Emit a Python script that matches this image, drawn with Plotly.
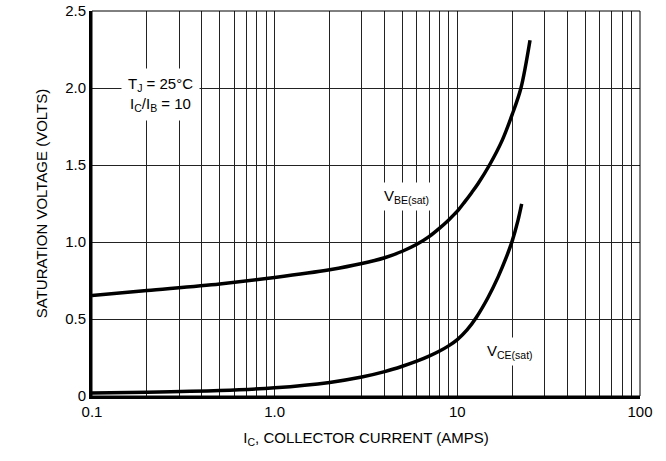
import plotly.graph_objects as go

# Data
ic_vbe = [0.1, 0.2, 0.5, 1.0, 2.0, 3.0, 4.0, 5.0, 6.0, 7.0, 8.0, 9.0, 10.0, 11.0, 12.0, 13.0,
          15.0, 17.6, 20.0, 22.3, 25.0]
vbe = [0.652, 0.685, 0.728, 0.77, 0.82, 0.86, 0.898, 0.94, 0.985, 1.035, 1.09, 1.145, 1.20,
       1.262, 1.322, 1.38, 1.50, 1.66, 1.83, 2.0, 2.31]

ic_vce = [0.1, 0.2, 0.5, 1.0, 2.0, 3.0, 4.0, 5.0, 6.0, 7.0, 8.0, 9.0, 10.0, 11.3, 12.7,
          14.7, 16.7, 18.5, 20.0, 21.5, 22.5]
vce = [0.02, 0.024, 0.035, 0.053, 0.088, 0.123, 0.158, 0.193, 0.226, 0.259, 0.292, 0.327, 0.366,
       0.429, 0.51, 0.638, 0.772, 0.898, 1.009, 1.142, 1.247]

x_major = [0.1, 1.0, 10, 100]
x_major_text = ["0.1", "1.0", "10", "100"]
y_ticks = [0, 0.5, 1.0, 1.5, 2.0, 2.5]
y_tick_text = ["0", "0.5", "1.0", "1.5", "2.0", "2.5"]

x_grid = []
for dec in [0.1, 1.0, 10.0]:
    for m in range(1, 10):
        x_grid.append(round(dec * m, 6))
x_grid.append(100.0)
x_text = []
for v in x_grid:
    lab = ""
    for mv, mt in zip(x_major, x_major_text):
        if abs(v - mv) < 1e-9:
            lab = mt
    x_text.append(lab)

FONT = "Liberation Sans, Arial, sans-serif"

fig = go.Figure()
fig.add_trace(go.Scatter(x=ic_vbe, y=vbe, mode="lines",
                         line=dict(color="black", width=3.5, shape="spline", smoothing=0.9),
                         showlegend=False, hoverinfo="skip"))
fig.add_trace(go.Scatter(x=ic_vce, y=vce, mode="lines",
                         line=dict(color="black", width=3.5, shape="spline", smoothing=0.9),
                         showlegend=False, hoverinfo="skip"))

fig.update_xaxes(type="log", range=[-1, 2], tickvals=x_grid, ticktext=x_text,
                 showgrid=True, gridcolor="#222", gridwidth=1, zeroline=False,
                 showline=True, linecolor="black", linewidth=3, ticks="", automargin=False,
                 tickfont=dict(family=FONT, size=15, color="black"),
                 title=dict(text="I<sub>C</sub>, COLLECTOR CURRENT (AMPS)",
                            font=dict(family=FONT, size=15, color="black"), standoff=14))
fig.update_yaxes(range=[0, 2.5], tickvals=y_ticks, ticktext=y_tick_text,
                 showgrid=True, gridcolor="#222", gridwidth=1, zeroline=False,
                 showline=True, linecolor="black", linewidth=3, ticks="", automargin=False,
                 tickfont=dict(family=FONT, size=15, color="black"),
                 title=dict(text="SATURATION VOLTAGE (VOLTS)",
                            font=dict(family=FONT, size=15, color="black"), standoff=14))

fig.add_shape(type="rect", xref="paper", yref="paper", x0=0, y0=0, x1=1, y1=1,
              line=dict(color="black", width=1), layer="above")

fig.add_annotation(x=-0.626, y=1.96, xref="x", yref="y", showarrow=False,
                   text="T<sub>J</sub> = 25°C<br>I<sub>C</sub>/I<sub>B</sub> = 10",
                   font=dict(family=FONT, size=15, color="black"), bgcolor="white",
                   borderpad=6, align="center")
fig.add_annotation(x=0.72, y=1.295, xref="x", yref="y", showarrow=False,
                   text="V<sub>BE(sat)</sub>",
                   font=dict(family=FONT, size=15, color="black"), bgcolor="white",
                   borderpad=4)
fig.add_annotation(x=1.291, y=0.29, xref="x", yref="y", showarrow=False,
                   text="V<sub>CE(sat)</sub>",
                   font=dict(family=FONT, size=15, color="black"), bgcolor="white",
                   borderpad=4)

fig.update_layout(width=666, height=461, margin=dict(l=92, r=26, t=11, b=65),
                  plot_bgcolor="white", paper_bgcolor="white")

fig.write_html("out.html", config={"displayModeBar": False},
               post_script="document.body.style.margin='0';document.body.style.overflow='hidden';")
